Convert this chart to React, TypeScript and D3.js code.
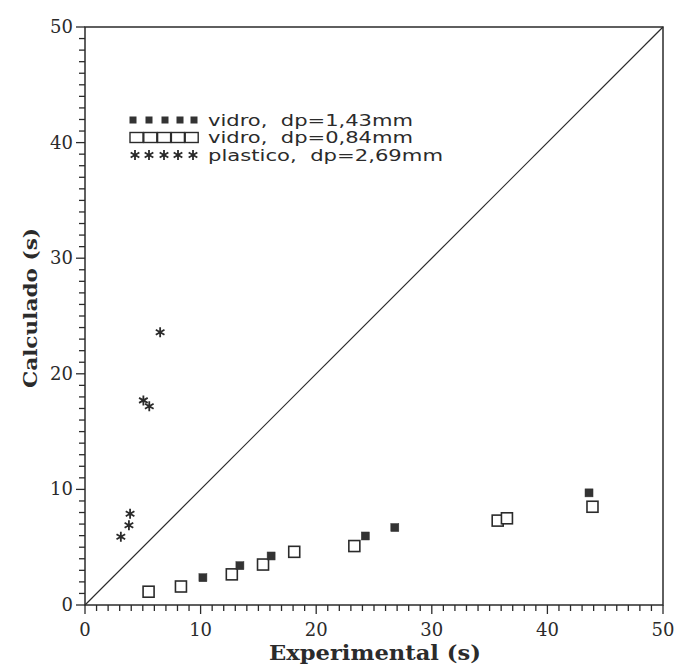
import React from "react";
import * as d3 from "d3";

const filledX = [10.2, 13.4, 16.1, 24.25, 26.8, 43.6];
const filledY = [2.36, 3.4, 4.24, 5.97, 6.7, 9.7];
const openX = [5.5, 8.3, 12.7, 15.4, 18.1, 23.3, 35.7, 36.5, 43.9];
const openY = [1.15, 1.6, 2.65, 3.5, 4.6, 5.1, 7.3, 7.5, 8.5];
const starX = [3.1, 3.8, 3.9, 5.05, 5.56, 6.5];
const starY = [5.9, 6.9, 7.9, 17.7, 17.2, 23.6];
const majorTicks = [0, 10, 20, 30, 40, 50];
const legendLabels = ["vidro,  dp=1,43mm", "vidro,  dp=0,84mm", "plastico,  dp=2,69mm"];
const xTitle = "Experimental (s)";
const yTitle = "Calculado (s)";

const W = 677, H = 666;
const L = 85, R = 663, T = 27, B = 605;
const ink = "#2b2b2b";
const serif = "'DejaVu Serif', 'Liberation Serif', serif";
const sans = "'DejaVu Sans', 'Liberation Sans', Arial, sans-serif";

export default function App() {
  const x = d3.scaleLinear().domain([0, 50]).range([L, R]);
  const y = d3.scaleLinear().domain([0, 50]).range([B, T]);
  const minor = d3.range(0, 51, 1);
  const star = d3.symbol().type(d3.symbolAsterisk).size(70)();
  const starLegend = d3.symbol().type(d3.symbolAsterisk).size(70)();
  const legendWidths = [205, 205, 235];
  const legendRowY = [120, 137.5, 155];

  return (
    <svg width={W} height={H} style={{ position: "absolute", left: 0, top: 0, background: "#fff" }}>
      {/* frame */}
      <rect x={L} y={T} width={R - L} height={B - T} fill="none" stroke={ink} strokeWidth={1.5} />
      {/* ticks */}
      {minor.map((v) => (
        <line key={"xt" + v} x1={x(v)} x2={x(v)} y1={B} y2={B + (v % 10 === 0 ? 9 : 6)} stroke={ink} strokeWidth={1.3} />
      ))}
      {minor.map((v) => (
        <line key={"yt" + v} y1={y(v)} y2={y(v)} x1={L} x2={L - (v % 10 === 0 ? 9 : 6)} stroke={ink} strokeWidth={1.3} />
      ))}
      {majorTicks.map((v) => (
        <text key={"xl" + v} x={x(v)} y={B + 31} textAnchor="middle" fontFamily={serif} fontSize={18} fill={ink}>{v}</text>
      ))}
      {majorTicks.map((v) => (
        <text key={"yl" + v} x={L - 12} y={y(v) + 6} textAnchor="end" fontFamily={serif} fontSize={18} fill={ink}>{v}</text>
      ))}
      <text x={(L + R) / 2 - 105} y={B + 55} textLength={212} lengthAdjust="spacingAndGlyphs" fontFamily={serif} fontWeight="bold" fontSize={20} fill={ink}>{xTitle}</text>
      <text transform={`translate(${37},${308 + 80}) rotate(-90)`} textLength={160} lengthAdjust="spacingAndGlyphs" fontFamily={serif} fontWeight="bold" fontSize={19} fill={ink}>{yTitle}</text>

      {/* diagonal */}
      <line x1={x(0)} y1={y(0)} x2={x(50)} y2={y(50)} stroke={ink} strokeWidth={1.2} />

      {/* data */}
      {openX.map((v, i) => (
        <rect key={"o" + i} x={x(v) - 5.5} y={y(openY[i]) - 5.5} width={11} height={11} fill="#fff" stroke={ink} strokeWidth={1.6} />
      ))}
      {filledX.map((v, i) => (
        <rect key={"f" + i} x={x(v) - 4} y={y(filledY[i]) - 4} width={8} height={8} fill="#333" stroke="#333" strokeWidth={0.5} />
      ))}
      {starX.map((v, i) => (
        <path key={"s" + i} d={star} transform={`translate(${x(v)},${y(starY[i])})`} fill="none" stroke={ink} strokeWidth={1.8} />
      ))}

      {/* legend */}
      {[133, 149, 165, 180, 194].map((cx, i) => (
        <rect key={"lf" + i} x={cx - 3.5} y={legendRowY[0] - 3.5} width={7} height={7} fill="#333" />
      ))}
      {[0, 1, 2, 3, 4].map((i) => (
        <rect key={"lo" + i} x={130 + i * 13.8} y={legendRowY[1] - 5} width={13} height={10} fill="none" stroke={ink} strokeWidth={1.4} />
      ))}
      {[135, 149, 164, 178, 193].map((cx, i) => (
        <path key={"ls" + i} d={starLegend} transform={`translate(${cx},${legendRowY[2]})`} fill="none" stroke={ink} strokeWidth={1.8} />
      ))}
      {legendLabels.map((t, i) => (
        <text key={"lt" + i} x={208} y={legendRowY[i] + 5.5} textLength={legendWidths[i]} lengthAdjust="spacingAndGlyphs" fontFamily={sans} fontSize={15} fill={ink}>{t.replace(/  /g, "\u00a0\u00a0")}</text>
      ))}
    </svg>
  );
}
